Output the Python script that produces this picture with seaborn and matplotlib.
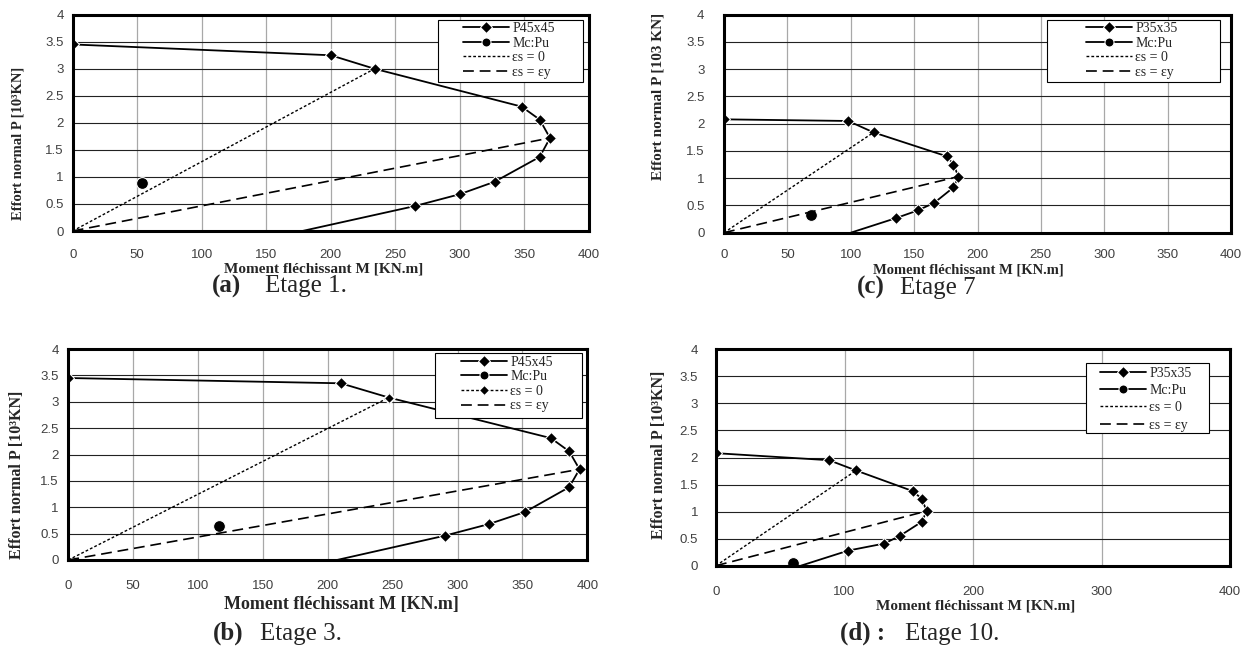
import matplotlib
matplotlib.use("Agg")
import matplotlib.pyplot as plt
from matplotlib.patches import Rectangle
import seaborn as sns

# --- Données lues sur les diagrammes d'interaction (M en KN.m, P en 10^3 KN) ---
# (a) Etage 1 - poteau P45x45
m_a = [0, 200, 234, 348, 362, 370, 362, 327, 300, 265, 178]
p_a = [3.45, 3.25, 3.00, 2.30, 2.06, 1.72, 1.37, 0.91, 0.68, 0.46, 0.0]
mc_a = [54]
pu_a = [0.88]
es0_m_a = [0, 234]
es0_p_a = [0, 3.00]
esy_m_a = [0, 370]
esy_p_a = [0, 1.72]

# (b) Etage 3 - poteau P45x45
m_b = [0, 210, 247, 372, 386, 394, 386, 352, 324, 290, 207]
p_b = [3.45, 3.35, 3.08, 2.31, 2.06, 1.72, 1.38, 0.91, 0.68, 0.46, 0.0]
mc_b = [116]
pu_b = [0.65]
es0_m_b = [0, 247]
es0_p_b = [0, 3.08]
esy_m_b = [0, 394]
esy_p_b = [0, 1.72]

# (c) Etage 7 - poteau P35x35
m_c = [0, 98, 118, 176, 181, 185, 181, 166, 153, 136, 100]
p_c = [2.08, 2.05, 1.84, 1.40, 1.25, 1.03, 0.83, 0.55, 0.41, 0.27, 0.0]
mc_c = [69]
pu_c = [0.32]
es0_m_c = [0, 118]
es0_p_c = [0, 1.84]
esy_m_c = [0, 185]
esy_p_c = [0, 1.03]

# (d) Etage 10 - poteau P35x35
m_d = [0, 88, 109, 153, 160, 164, 160, 143, 131, 103, 66]
p_d = [2.08, 1.95, 1.76, 1.38, 1.24, 1.01, 0.81, 0.55, 0.41, 0.28, 0.0]
mc_d = [60]
pu_d = [0.05]
es0_m_d = [0, 109]
es0_p_d = [0, 1.76]
esy_m_d = [0, 164]
esy_p_d = [0, 1.01]

ylab_std = "Effort normal P [10³KN]"
ylab_c = "Effort normal P [103 KN]"
xlab = "Moment fléchissant M [KN.m]"

# --- Style ---
sns.set_style("white")
plt.rcParams["font.family"] = ["Liberation Serif", "DejaVu Serif"]

W, H = 1251.0, 652.0
PX = 72 / 100  # pixels -> points

fig = plt.figure(figsize=(W / 100, H / 100), dpi=100)


def trace_panneau(box, m, p, mc, pu, es0_m, es0_p, esy_m, esy_p, section,
                  ylabel, xstep, leg_box, leg_anchor, leg_spacing,
                  ylab_xy, xlab_xy, xlab_size, ylab_size, ypad, xpad,
                  es0_marker=False):
    # box = (gauche, haut, droite, bas) en pixels
    l, t, r, b = box
    ax = fig.add_axes([l / W, 1 - b / H, (r - l) / W, (b - t) / H])

    def frac(x, y):
        return (x - l) / (r - l), (b - y) / (b - t)

    n = len(m)
    sns.lineplot(x=m, y=p, sort=False, estimator=None, ax=ax, color="black",
                 lw=1.3, marker="D", markersize=6.3, markevery=list(range(n - 1)),
                 label=section)
    sns.lineplot(x=mc, y=pu, ax=ax, color="black", lw=1.3, marker="o",
                 markersize=8.5, label="Mc:Pu")
    sns.lineplot(x=es0_m, y=es0_p, sort=False, estimator=None, ax=ax,
                 color="black", lw=1.0,
                 marker="D" if es0_marker else None, markersize=5.5,
                 label="εs = 0")
    sns.lineplot(x=esy_m, y=esy_p, sort=False, estimator=None, ax=ax,
                 color="black", lw=1.2, label="εs = εy")
    lines = ax.get_lines()
    lines[2].set_dashes((2.0, 1.5))
    lines[3].set_dashes((6.5, 3.5))

    ax.set_xlim(0, 400)
    ax.set_ylim(0, 4)
    ax.set_xticks(range(0, 401, xstep))
    ax.set_yticks([i * 0.5 for i in range(9)])
    ax.set_yticklabels(["%g" % (i * 0.5) for i in range(9)])

    # Quadrillage : verticales grises, horizontales noires
    ax.xaxis.grid(True, color="#a8a8a8", lw=0.9)
    ax.yaxis.grid(True, color="#222222", lw=0.8)
    ax.set_axisbelow(True)

    for s in ax.spines.values():
        s.set_linewidth(2.2)
        s.set_color("black")

    ax.tick_params(axis="both", which="major", direction="out", length=4 * PX,
                   width=0.8, color="#555555", labelsize=9.5, labelcolor="#404040")
    ax.tick_params(axis="x", pad=xpad * PX, length=6 * PX)
    ax.tick_params(axis="y", pad=ypad * PX)
    for tl in ax.get_xticklabels() + ax.get_yticklabels():
        tl.set_family("Liberation Sans")

    ax.set_xlabel(xlab, fontsize=xlab_size, fontweight="bold", va="center")
    ax.set_ylabel(ylabel, fontsize=ylab_size, fontweight="bold", va="center")
    ax.xaxis.set_label_coords(*frac(*xlab_xy))
    ax.yaxis.set_label_coords(*frac(*ylab_xy))

    # Cadre de la légende
    x0, y0, x1, y1 = leg_box
    fx0, fy1 = frac(x0, y1)
    fx1, fy0 = frac(x1, y0)
    ax.add_patch(Rectangle((fx0, fy1), fx1 - fx0, fy0 - fy1,
                           transform=ax.transAxes, facecolor="white",
                           edgecolor="black", lw=0.8, zorder=4.5,
                           clip_on=False))

    leg = ax.legend(loc="upper left", bbox_to_anchor=frac(*leg_anchor),
                    borderaxespad=0, borderpad=0, fontsize=10, frameon=False,
                    handlelength=3.3, handletextpad=0.25,
                    labelspacing=leg_spacing, numpoints=1)
    leg.set_zorder(5)
    leg.legend_handles[1].set_markersize(6.5)
    leg.legend_handles[0].set_markersize(6)
    return ax


# --- (a) Etage 1 ---
trace_panneau((72.7, 14.7, 588.7, 231), m_a, p_a, mc_a, pu_a,
              es0_m_a, es0_p_a, esy_m_a, esy_p_a, "P45x45", ylab_std, 50,
              (438, 20, 583, 82), (463, 22), 0.12,
              (18, 143.5), (324, 269), 11, 10.5, 5, 12)

# --- (c) Etage 7 ---
trace_panneau((724, 14.7, 1231, 232.7), m_c, p_c, mc_c, pu_c,
              es0_m_c, es0_p_c, esy_m_c, esy_p_c, "P35x35", ylab_c, 50,
              (1047, 20, 1220, 82), (1086, 22), 0.12,
              (657.5, 96.7), (968, 270), 10.5, 11, 15.5, 10)

# --- (b) Etage 3 ---
trace_panneau((68.3, 349, 587.3, 560), m_b, p_b, mc_b, pu_b,
              es0_m_b, es0_p_b, esy_m_b, esy_p_b, "P45x45", ylab_std, 50,
              (435, 353.3, 581.7, 417.7), (461, 355.5), 0.12,
              (16.7, 475), (341.7, 604), 13, 11.5, 5.5, 14,
              es0_marker=True)

# --- (d) Etage 10 ---
trace_panneau((716, 349.3, 1230, 565.7), m_d, p_d, mc_d, pu_d,
              es0_m_d, es0_p_d, esy_m_d, esy_p_d, "P35x35", ylab_std, 100,
              (1085.7, 363.3, 1209.3, 433.3), (1100, 367), 0.3,
              (659, 455), (976, 606), 11, 11.5, 14, 14)

# --- Légendes des sous-figures ---
captions = [
    (211.7, 292.3, "(a)", 265, "Etage 1."),
    (856.7, 294.0, "(c)", 900, "Etage 7"),
    (213.3, 640.0, "(b)", 260, "Etage 3."),
    (840.0, 640.0, "(d) :", 905, "Etage 10."),
]
for x1, yb, lettre, x2, texte in captions:
    fig.text(x1 / W, 1 - yb / H, lettre, fontsize=18, fontweight="bold",
             va="baseline", ha="left")
    fig.text(x2 / W, 1 - yb / H, texte, fontsize=18, va="baseline", ha="left")

fig.savefig("out.png", dpi=100)
